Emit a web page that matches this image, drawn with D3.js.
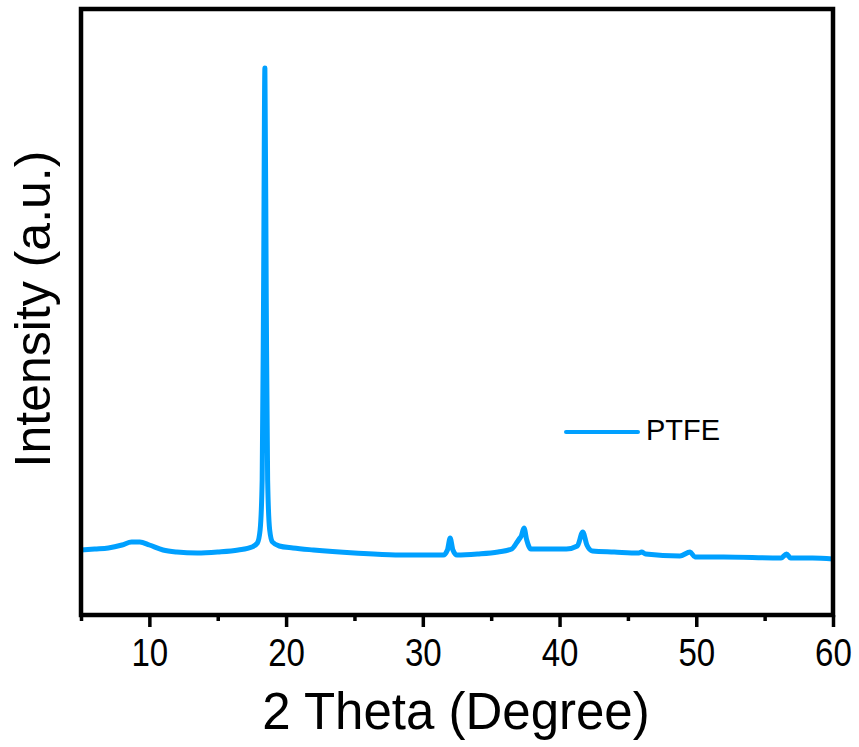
<!DOCTYPE html>
<html>
<head>
<meta charset="utf-8">
<script src="https://cdn.jsdelivr.net/npm/d3@7"></script>
<style>
  body { margin: 0; background: #fff; }
  text { font-family: Arial, "Liberation Sans", sans-serif; fill: #000; }
</style>
</head>
<body>
<svg id="chart" width="859" height="747"></svg>
<script>
// XRD pattern (2θ in degrees, intensity a.u.)
const twoTheta = [5.0, 6.0, 7.0, 8.0, 8.7, 9.3, 10.0, 11.0, 12.0, 13.5, 15.0, 16.5, 17.5, 17.9,
  18.1, 18.25, 18.35, 18.45, 18.55, 18.65, 18.8, 19.0, 19.5, 20.5, 22.0, 25.0, 28.0,
  31.5, 31.8, 32.0, 32.2, 32.5, 34.0, 35.5, 36.5, 36.9, 37.05, 37.2, 37.4, 37.6, 37.9,
  39.0, 40.5, 41.3, 41.7, 42.0, 42.4, 44.0, 45.8, 46.0, 46.3, 48.8, 49.55, 49.9,
  52.0, 56.2, 56.6, 56.9, 58.5, 60.0];
const intensity = [65, 66, 67, 70, 73, 73, 70, 65, 63, 62, 63, 65, 68, 72,
  85, 135, 315, 547, 315, 135, 85, 73, 69, 67, 65, 62, 60,
  60, 65, 77, 65, 60, 61, 63, 66, 73, 76, 79, 87, 75, 66,
  66, 66, 69, 83, 70, 64, 63, 62, 63, 61, 59, 63, 58,
  58, 57, 61, 57, 57, 56];
const xMajorTicks = [10, 20, 30, 40, 50, 60];
const xMinorTicks = [5, 15, 25, 35, 45, 55];
const seriesName = "PTFE";

const color = "#00a0ff";
const margin = {left: 81, right: 26, top: 9, bottom: 132};
const width = 859, height = 747;

const x = d3.scaleLinear().domain([5, 60]).range([margin.left, width - margin.right]);
const y = d3.scaleLinear().domain([0, 606]).range([height - margin.bottom, margin.top]);

const svg = d3.select("#chart");
const data = twoTheta.map((t, i) => ({t: t, v: intensity[i]}));

// 曲線
const line = d3.line().x(d => x(d.t)).y(d => y(d.v)).curve(d3.curveMonotoneX);
svg.append("path")
  .datum(data)
  .attr("fill", "none")
  .attr("stroke", color)
  .attr("stroke-width", 5)
  .attr("stroke-linejoin", "round")
  .attr("d", line);

// 下の軸（目盛）
svg.append("g").attr("transform", `translate(0, ${y(0)})`)
  .call(d3.axisBottom(x).tickValues(xMajorTicks).tickSize(12).tickFormat(d3.format("d")))
  .call(g => g.select(".domain").remove())
  .call(g => g.selectAll(".tick line").attr("stroke", "#000").attr("stroke-width", 3.5))
  .call(g => g.selectAll(".tick text")
    .attr("x", 0).attr("y", 0).attr("dy", 0)
    .attr("transform", "translate(0,51) scale(0.87,1)")
    .style("font-size", "38px"));
svg.append("g").attr("transform", `translate(0, ${y(0)})`)
  .call(d3.axisBottom(x).tickValues(xMinorTicks).tickSize(6).tickFormat(""))
  .call(g => g.select(".domain").remove())
  .call(g => g.selectAll(".tick line").attr("stroke", "#000").attr("stroke-width", 3.5));

// 枠
svg.append("rect")
  .attr("x", x(5)).attr("y", y(606))
  .attr("width", x(60) - x(5)).attr("height", y(0) - y(606))
  .attr("fill", "none").attr("stroke", "#000").attr("stroke-width", 4.5);

// 軸タイトル
svg.append("text")
  .attr("x", (x(5) + x(60)) / 2 - 1).attr("y", 729)
  .attr("text-anchor", "middle")
  .style("font-size", "51px")
  .text("2 Theta (Degree)");
svg.append("text")
  .attr("transform", `translate(50, 309) rotate(-90)`)
  .attr("text-anchor", "middle")
  .style("font-size", "50px")
  .text("Intensity (a.u.)");

// 凡例
svg.append("line")
  .attr("x1", 566).attr("x2", 638).attr("y1", 432).attr("y2", 432)
  .attr("stroke", color).attr("stroke-width", 4).attr("stroke-linecap", "round");
svg.append("text")
  .attr("x", 646).attr("y", 440)
  .style("font-size", "29px")
  .text(seriesName);
</script>
</body>
</html>
